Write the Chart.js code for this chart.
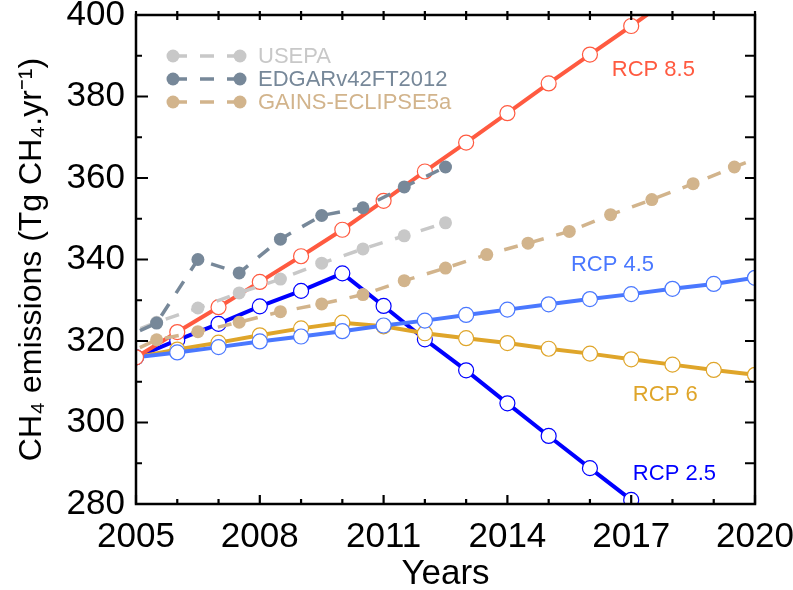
<!DOCTYPE html>
<html>
<head>
<meta charset="utf-8">
<title>CH4 emissions</title>
<script src="https://cdn.jsdelivr.net/npm/chart.js@4.4.1/dist/chart.umd.min.js"></script>
<style>
  html, body { margin: 0; padding: 0; background: #fff; }
  #wrap { width: 793px; height: 590px; }
</style>
</head>
<body>
<div id="wrap"><canvas id="chart" width="793" height="590"></canvas></div>
<script>
// RCP scenarios, one value per year
const rcpYearsLong = [2005, 2006, 2007, 2008, 2009, 2010, 2011, 2012, 2013, 2014, 2015, 2016, 2017, 2018, 2019, 2020];
const rcpYearsShort = [2005, 2006, 2007, 2008, 2009, 2010, 2011, 2012, 2013, 2014, 2015, 2016, 2017, 2018];
const rcp85 = [316.0, 322.2, 328.3, 334.5, 340.8, 347.3, 354.4, 361.6, 368.7, 375.9, 383.2, 390.3, 397.3, 404.5];
const rcp26 = [316.0, 320.2, 324.2, 328.5, 332.3, 336.6, 328.6, 320.4, 312.8, 304.7, 296.7, 288.8, 281.0, 273.2];
const rcp45 = [316.0, 317.2, 318.5, 319.9, 321.1, 322.4, 323.8, 325.0, 326.4, 327.7, 329.0, 330.3, 331.5, 332.8, 334.0, 335.5];
const rcp60 = [316.0, 317.9, 319.6, 321.4, 323.1, 324.5, 323.6, 321.9, 320.7, 319.5, 318.1, 316.9, 315.5, 314.2, 312.9, 311.7];

// inventories, plotted at mid-year
const obsYears = [2004.5, 2005.5, 2006.5, 2007.5, 2008.5, 2009.5, 2010.5, 2011.5, 2012.5];
const usepa = [320.6, 324.6, 328.1, 331.8, 335.2, 339.1, 342.6, 345.8, 349.0];
const edgar = [319.8, 324.4, 340.0, 336.7, 345.0, 350.8, 352.7, 357.8, 362.7];
const gainsYears = [2004.5, 2005.5, 2006.5, 2007.5, 2008.5, 2009.5, 2010.5, 2011.5, 2012.5,
  2013.5, 2014.5, 2015.5, 2016.5, 2017.5, 2018.5, 2019.5, 2020.5];
const gains = [315.6, 320.3, 322.3, 324.6, 327.2, 329.1, 331.4, 334.8, 337.9,
  341.2, 344.0, 346.9, 351.0, 354.7, 358.6, 362.7, 366.5];

const xTicks = [2005, 2008, 2011, 2014, 2017, 2020];
const yTicks = [280, 300, 320, 340, 360, 380, 400];

// scenario labels placed in data units
const rcpLabels = [
  ['RCP 8.5', 2016.53, 386.6, '#ff5a40'],
  ['RCP 4.5', 2015.54, 338.7, '#4a78ff'],
  ['RCP 6', 2017.04, 306.8, '#dfa52a'],
  ['RCP 2.5', 2017.04, 287.4, '#0000ff']
];

const legendItems = [
  ['USEPA', '#c8c8c8'],
  ['EDGARv42FT2012', '#778899'],
  ['GAINS-ECLIPSE5a', '#d2b48c']
];

const FONT = "'Liberation Sans', Arial, sans-serif";
const pts = (xs, ys) => xs.map((x, i) => ({ x: x, y: ys[i] }));

function rcpSet(label, xs, ys, color, order) {
  return {
    label: label, data: pts(xs, ys), order: order,
    borderColor: color, borderWidth: 4,
    pointRadius: 7.5, pointBorderWidth: 1.2,
    pointBackgroundColor: '#fff', pointBorderColor: color,
    tension: 0, clip: 0
  };
}

function obsSet(label, xs, ys, color, order) {
  return {
    label: label, data: pts(xs, ys), order: order,
    borderColor: color, borderWidth: 3.5, borderDash: [14, 13],
    pointRadius: 6.5, pointBorderWidth: 0,
    pointBackgroundColor: color, pointBorderColor: color,
    tension: 0, clip: 0
  };
}

const framePlugin = {
  id: 'frame',
  afterDatasetsDraw(chart) {
    const { ctx, chartArea: a, scales } = chart;
    const x = scales.x, y = scales.y;
    ctx.save();

    // scenario labels
    ctx.font = '22px ' + FONT;
    ctx.textBaseline = 'middle';
    ctx.textAlign = 'left';
    rcpLabels.forEach(([t, yr, v, c]) => {
      ctx.fillStyle = c;
      ctx.fillText(t, x.getPixelForValue(yr), y.getPixelForValue(v));
    });

    // legend
    legendItems.forEach(([t, c], i) => {
      const ly = 56 + i * 23;
      ctx.strokeStyle = c;
      ctx.fillStyle = c;
      ctx.lineWidth = 3.5;
      ctx.setLineDash([14, 13]);
      ctx.beginPath();
      ctx.moveTo(173, ly);
      ctx.lineTo(240, ly);
      ctx.stroke();
      ctx.setLineDash([]);
      [173, 240].forEach(px => {
        ctx.beginPath();
        ctx.arc(px, ly, 6.5, 0, Math.PI * 2);
        ctx.fill();
      });
      ctx.fillText(t, 258, ly + 1);
    });

    // frame and inward ticks
    ctx.strokeStyle = '#000';
    ctx.lineWidth = 2.5;
    ctx.strokeRect(a.left, a.top, a.right - a.left, a.bottom - a.top);
    ctx.lineWidth = 2.2;
    ctx.beginPath();
    for (let yr = 2005; yr <= 2020; yr++) {
      const px = x.getPixelForValue(yr);
      const len = xTicks.includes(yr) ? 9 : 5;
      ctx.moveTo(px, a.bottom);
      ctx.lineTo(px, a.bottom - len);
      ctx.moveTo(px, a.top - 4);
      ctx.lineTo(px, a.top + 5);
    }
    for (let v = 280; v <= 400; v += 10) {
      const py = y.getPixelForValue(v);
      const len = yTicks.includes(v) ? 12 : 6;
      ctx.moveTo(a.left, py);
      ctx.lineTo(a.left + len, py);
      ctx.moveTo(a.right, py);
      ctx.lineTo(a.right - 10, py);
    }
    ctx.stroke();
    ctx.restore();
  }
};

new Chart(document.getElementById('chart'), {
  type: 'line',
  data: {
    datasets: [
      obsSet('EDGARv42FT2012', obsYears, edgar, '#778899', 1),
      obsSet('USEPA', obsYears, usepa, '#c8c8c8', 2),
      obsSet('GAINS-ECLIPSE5a', gainsYears, gains, '#d2b48c', 3),
      rcpSet('RCP 8.5', rcpYearsShort, rcp85, '#ff5a40', 4),
      rcpSet('RCP 4.5', rcpYearsLong, rcp45, '#4a78ff', 5),
      rcpSet('RCP 6', rcpYearsLong, rcp60, '#dfa52a', 6),
      rcpSet('RCP 2.5', rcpYearsShort, rcp26, '#0000ff', 7)
    ]
  },
  options: {
    responsive: false,
    animation: false,
    layout: { padding: { top: 15, right: 38, left: 0, bottom: 0 } },
    plugins: { legend: { display: false }, tooltip: { enabled: false } },
    scales: {
      x: {
        type: 'linear', min: 2005, max: 2020,
        afterFit: s => { s.height = 86; s.paddingLeft = 0; s.paddingRight = 0; },
        grid: { display: false, drawTicks: false },
        border: { display: false },
        ticks: {
          stepSize: 1, autoSkip: false, maxRotation: 0, padding: 12,
          color: '#000', font: { family: FONT, size: 35 },
          callback: v => (xTicks.includes(v) ? String(v) : '')
        },
        title: {
          display: true, text: 'Years', color: '#000',
          font: { family: FONT, size: 35 }, padding: { top: 0, bottom: -5 }
        }
      },
      y: {
        min: 280, max: 400,
        afterFit: s => { s.width = 136; s.paddingTop = 0; s.paddingBottom = 0; },
        grid: { display: false, drawTicks: false },
        border: { display: false },
        ticks: {
          stepSize: 20, autoSkip: false, padding: 11,
          color: '#000', font: { family: FONT, size: 35 },
          callback: v => String(v)
        },
        title: {
          display: true, text: 'CH\u2084 emissions (Tg CH\u2084.yr\u207B\u00B9)', color: '#000',
          font: { family: FONT, size: 32 }, padding: { top: 13, bottom: 0 }
        }
      }
    }
  },
  plugins: [framePlugin]
});
</script>
</body>
</html>
